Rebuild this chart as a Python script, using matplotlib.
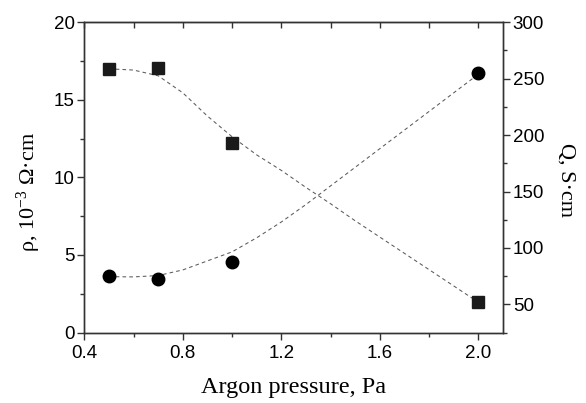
import numpy as np
import matplotlib as mpl
mpl.use('Agg')
import matplotlib.pyplot as plt
from matplotlib.ticker import MultipleLocator

# measured points
pressure = [0.5, 0.7, 1.0, 2.0]
rho = [17.0, 17.05, 12.2, 1.95]          # 10^-3 Ohm*cm, squares
sigma = [74.9, 72.8, 87.5, 254.7]        # S*cm, circles

# dashed fit curves
fit_x = [0.5, 0.6, 0.7, 0.8, 0.9, 1.0, 1.1, 1.2, 1.3, 1.4, 1.5, 1.6, 1.7, 1.8, 1.9, 2.0]
fit_rho = [17.0, 16.92, 16.55, 15.45, 13.95, 12.62, 11.45, 10.45, 9.35, 8.3, 7.2, 6.15, 5.1, 4.05, 3.0, 1.95]
fit_sigma = [74.5, 74.3, 75.5, 80.5, 88.5, 96.5, 109, 123, 138.5, 155, 171.5, 188, 204.5, 221, 237.5, 254]

plt.rcParams['font.family'] = ['Liberation Sans', 'DejaVu Sans']
plt.rcParams['mathtext.default'] = 'regular'

fig = plt.figure(figsize=(5.86, 4.03), dpi=100)
ax = fig.add_axes([0.1439, 0.1749, 0.7145, 0.7698])
ax2 = ax.twinx()

spine_col = '#333333'
dash = (0, (3.5, 3))

ax.plot(fit_x, fit_rho, color='#5a5a5a', lw=0.75, linestyle=dash)
ax.plot(pressure, rho, 's', color='#1a1a1a', markersize=8.5, linestyle='none')
ax2.plot(fit_x, fit_sigma, color='#5a5a5a', lw=0.75, linestyle=dash)
ax2.plot(pressure, sigma, 'o', color='black', markersize=9, linestyle='none')

ax.set_xlim(0.4, 2.1)
ax.set_ylim(0, 20)
ax2.set_ylim(25, 300)

ax.xaxis.set_major_locator(MultipleLocator(0.4))
ax.xaxis.set_minor_locator(MultipleLocator(0.2))
ax.yaxis.set_major_locator(MultipleLocator(5))
ax.yaxis.set_minor_locator(MultipleLocator(2.5))
ax2.yaxis.set_major_locator(MultipleLocator(50))
ax2.yaxis.set_minor_locator(MultipleLocator(25))
ax.set_xticks([0.4, 0.8, 1.2, 1.6, 2.0])
ax.set_xticklabels(['0.4', '0.8', '1.2', '1.6', '2.0'])

for a in (ax, ax2):
    for s in a.spines.values():
        s.set_color(spine_col)
        s.set_linewidth(1.0)

ax.tick_params(which='major', direction='out', length=5, width=1, color=spine_col,
               labelsize=13.5, pad=2, top=False)
ax.tick_params(axis='x', which='major', pad=4)
ax.tick_params(which='minor', direction='out', length=3, width=1, color=spine_col, top=False)
ax2.tick_params(which='major', direction='out', length=5, width=1, color=spine_col,
                labelsize=13.5, pad=2)
ax2.tick_params(which='minor', direction='out', length=3, width=1, color=spine_col)

# top axis ticks point inward
top = ax.secondary_xaxis('top')
top.xaxis.set_major_locator(MultipleLocator(0.4))
top.xaxis.set_minor_locator(MultipleLocator(0.2))
top.tick_params(which='both', direction='in', length=4, width=1, color=spine_col, labeltop=False)
top.spines['top'].set_color(spine_col)

ax.set_xlabel('Argon pressure, Pa', family='Liberation Serif', fontsize=17.5, labelpad=11)
fig.text(29 / 586, 1 - 192 / 403, r'ρ, 10$^{-3}$ Ω·cm', family='Liberation Serif',
         fontsize=16, rotation=90, ha='center', va='center')
fig.text(566 / 586, 1 - 180 / 403, 'Q, S·cm', family='Liberation Serif',
         fontsize=16, rotation=270, ha='center', va='center')

plt.savefig('out.png', dpi=100)
